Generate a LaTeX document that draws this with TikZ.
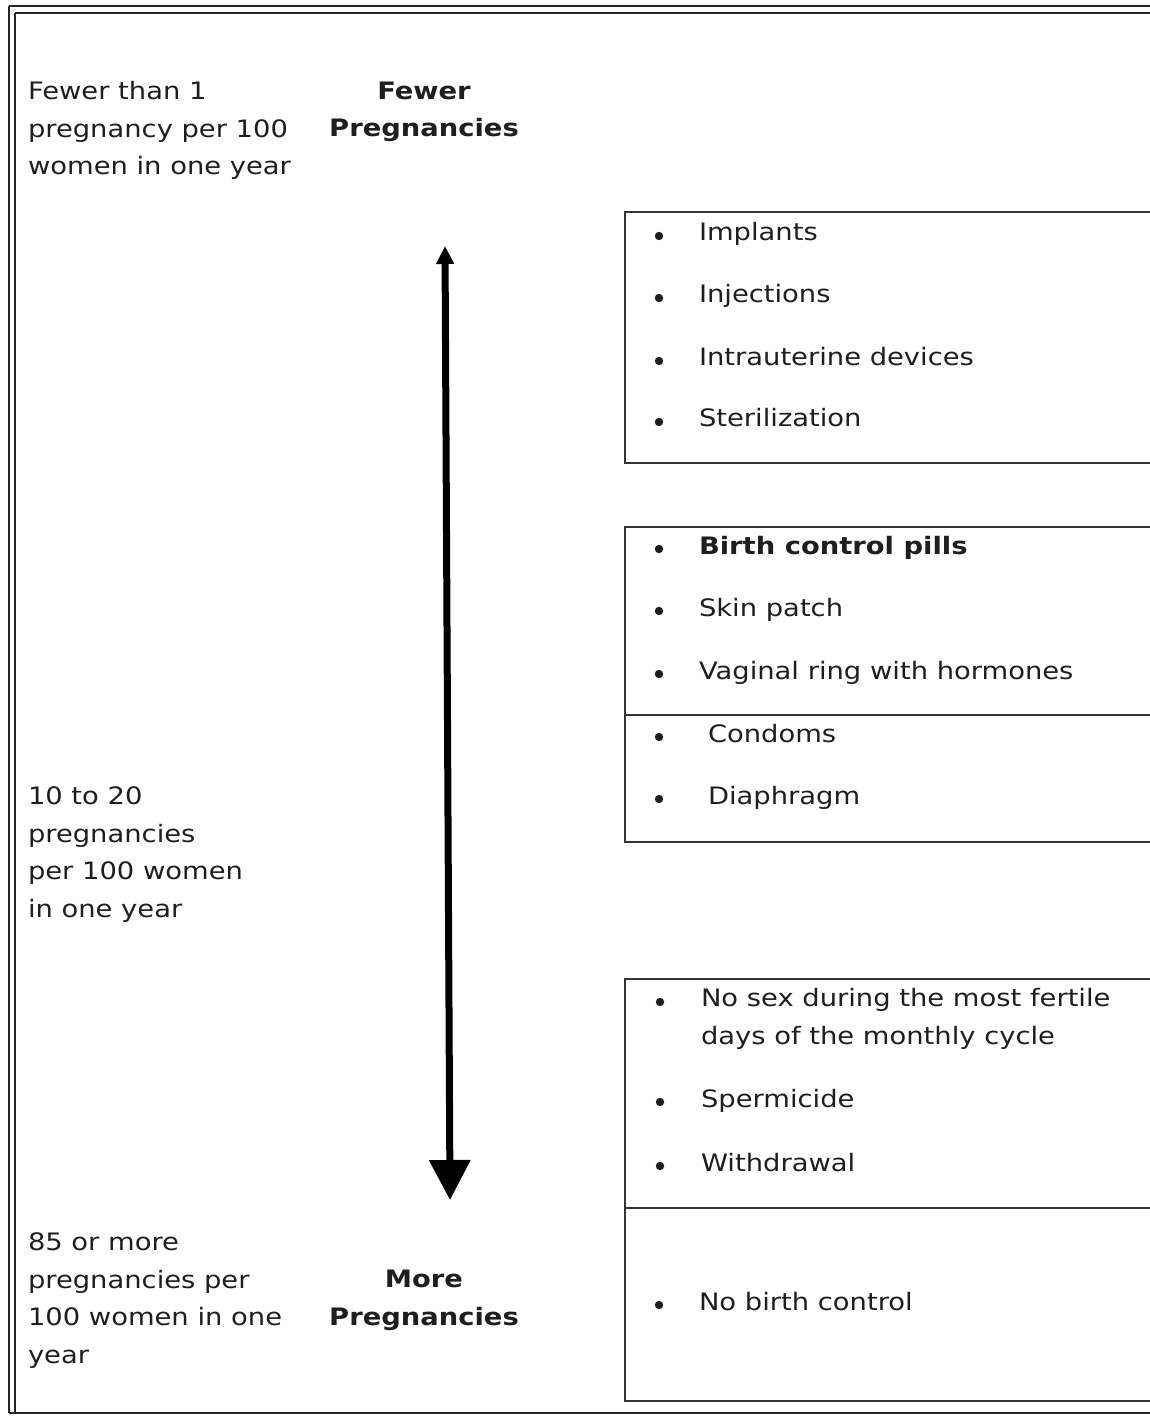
\documentclass[tikz,border=0pt]{standalone}
\usepackage{fontspec}
\setmainfont{DejaVu Sans}[FakeStretch=1.14]
\usetikzlibrary{arrows.meta}
\definecolor{txt}{RGB}{30,30,30}
\begin{document}
\begin{tikzpicture}[x=0.5pt,y=-0.5pt,
  every node/.style={inner sep=0pt, outer sep=0pt, text=txt, font=\fontsize{12}{18.75}\selectfont},
  lbl/.style={anchor=base west, align=left},
  head/.style={anchor=base, align=center, font=\fontsize{12}{18.75}\selectfont\bfseries},
  bul/.style={circle, fill=txt, minimum size=4.2pt},
  itm/.style={anchor=base west, align=left},
  box/.style={draw=black!80, line width=0.8pt},
  frame/.style={draw=black!85, line width=1pt}]
\useasboundingbox (0,0) rectangle (1149,1416);
\fill[white] (0,0) rectangle (1149,1416);
% outer frame
\draw[frame] (9,6) -- (1152,6);
\draw[frame] (15,13) -- (1152,13);
\draw[frame] (9,6) -- (9,1413);
\draw[frame] (15,13) -- (15,1413);
\draw[frame] (9,1413) -- (1152,1413);
% boxes
\draw[box] (1152,212) -- (625,212) -- (625,463) -- (1152,463);
\draw[box] (1152,527) -- (625,527) -- (625,842) -- (1152,842);
\draw[box] (625,715) -- (1152,715);
\draw[box] (1152,979) -- (625,979) -- (625,1401) -- (1152,1401);
\draw[box] (625,1208) -- (1152,1208);
% left labels (anchored at last line's baseline)
\node[lbl] (l1) at (28,175) {Fewer than 1\\pregnancy per 100\\women in one year};
\node[head] (h1) at (424,137) {Fewer\\Pregnancies};
\node[lbl] (l2) at (28,917) {10 to 20\\pregnancies\\per 100 women\\in one year};
\node[lbl] (l3) at (28,1363) {85 or more\\pregnancies per\\100 women in one\\year};
\node[head] (h2) at (424,1325) {More\\Pregnancies};
% arrow
\coordinate (atop) at (445,246);
\coordinate (abot) at (450,1200);
\draw[line width=3.5pt, {Triangle[length=9pt,width=8.5pt]}-{Triangle[length=20pt,width=20pt]}] (atop) -- (abot);
% items
\node[bul] (b1) at (659,236) {}; \node[itm] (i1) at (699,241) {Implants};
\node[bul] (b2) at (659,298) {}; \node[itm] (i2) at (699,303) {Injections};
\node[bul] (b3) at (659,361) {}; \node[itm] (i3) at (699,366) {Intrauterine devices};
\node[bul] (b4) at (659,422) {}; \node[itm] (i4) at (699,427) {Sterilization};
\node[bul] (b5) at (659,549) {}; \node[itm] (i5) at (699,554) {\bfseries Birth control pills};
\node[bul] (b6) at (659,611) {}; \node[itm] (i6) at (699,616) {Skin patch};
\node[bul] (b7) at (659,674) {}; \node[itm] (i7) at (699,679) {Vaginal ring with hormones};
\node[bul] (b8) at (659,737) {}; \node[itm] (i8) at (708,742) {Condoms};
\node[bul] (b9) at (659,799) {}; \node[itm] (i9) at (708,804) {Diaphragm};
\node[bul] (b10) at (660,1002) {}; \node[itm] (i10) at (701,1044) {No sex during the most fertile\\days of the monthly cycle};
\node[bul] (b11) at (660,1102) {}; \node[itm] (i11) at (701,1107) {Spermicide};
\node[bul] (b12) at (660,1166) {}; \node[itm] (i12) at (701,1171) {Withdrawal};
\node[bul] (b13) at (659,1305) {}; \node[itm] (i13) at (699,1310) {No birth control};
\end{tikzpicture}
\end{document}
